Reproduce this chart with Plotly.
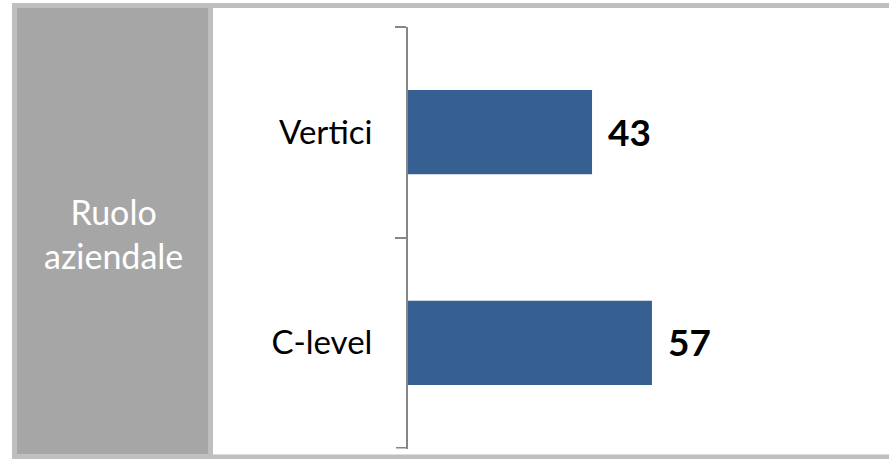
import plotly.graph_objects as go

# Data
categories = ["Vertici", "C-level"]
values = [43, 57]
panel_title = "Ruolo<br>aziendale"

W, H = 889, 459
FONT = "Lato"
BAR_COLOR = "#376092"
AXIS_COLOR = "#868686"
FRAME_COLOR = "#bfbfbf"
PANEL_COLOR = "#a6a6a6"


def px_x(p):
    return p / W


def px_y(p):
    return 1 - p / H


fig = go.Figure(
    go.Bar(
        x=values,
        y=categories,
        orientation="h",
        width=0.4,
        marker=dict(color=BAR_COLOR, line=dict(width=0)),
        hoverinfo="skip",
    )
)

# value labels to the right of each bar
for cat, val in zip(categories, values):
    fig.add_annotation(
        x=val, y=cat, xref="x", yref="y",
        text=f"<b>{val}</b>", showarrow=False,
        xanchor="left", yanchor="middle", xshift=14, yshift=1,
        font=dict(family=FONT, size=37, color="#000000"),
    )

# left side panel with its title
fig.add_annotation(
    x=px_x(113), y=px_y(234), xref="paper", yref="paper",
    text=panel_title, showarrow=False,
    xanchor="center", yanchor="middle", align="center",
    font=dict(family=FONT, size=34, color="#ffffff"),
)

shapes = [
    # outer frame
    dict(type="rect", xref="paper", yref="paper",
         x0=px_x(14.5), x1=px_x(905), y0=px_y(457), y1=px_y(5.5),
         line=dict(color=FRAME_COLOR, width=5), fillcolor="rgba(0,0,0,0)", layer="below"),
    # grey panel
    dict(type="rect", xref="paper", yref="paper",
         x0=px_x(17), x1=px_x(208.5), y0=px_y(454.5), y1=px_y(8),
         line=dict(width=0), fillcolor=PANEL_COLOR, layer="below"),
    # separator between panel and chart
    dict(type="line", xref="paper", yref="paper",
         x0=px_x(210.5), x1=px_x(210.5), y0=px_y(457), y1=px_y(5.5),
         line=dict(color=FRAME_COLOR, width=5), layer="below"),
    # closing tick at the bottom end of the category axis
    dict(type="line", xref="paper", yref="y",
         x0=px_x(396), x1=px_x(408), y0=len(categories) - 0.5, y1=len(categories) - 0.5,
         line=dict(color=AXIS_COLOR, width=2)),
]

fig.update_layout(
    width=W, height=H,
    margin=dict(l=0, r=0, t=0, b=0),
    paper_bgcolor="#ffffff",
    plot_bgcolor="rgba(0,0,0,0)",
    showlegend=False,
    shapes=shapes,
    xaxis=dict(
        domain=[px_x(408), px_x(836)],
        range=[0, 100],
        visible=False,
        fixedrange=True,
    ),
    yaxis=dict(
        domain=[px_y(448.5), px_y(26.5)],
        type="category",
        range=[1.502, -0.502],
        showline=True, linecolor=AXIS_COLOR, linewidth=2,
        ticks="outside", tickson="boundaries",
        ticklen=11, tickwidth=2, tickcolor=AXIS_COLOR,
        ticklabelstandoff=27,
        showgrid=False, zeroline=False,
        tickfont=dict(family=FONT, size=33, color="#000000"),
        fixedrange=True,
    ),
)

fig.write_html("out.html")
